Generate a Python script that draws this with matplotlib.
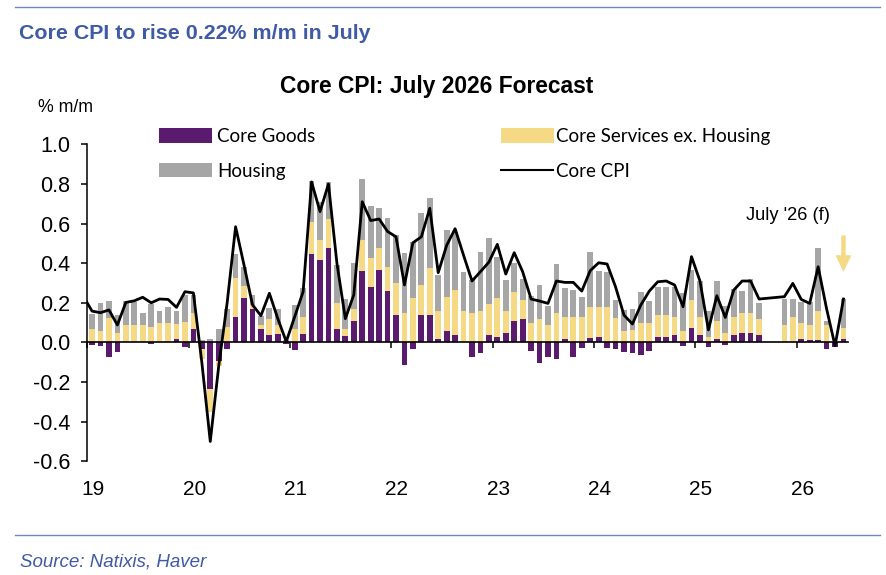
import numpy as np
import matplotlib
matplotlib.use("Agg")
import matplotlib.pyplot as plt
from matplotlib.patches import Rectangle
from matplotlib.lines import Line2D
import matplotlib.transforms as mtransforms

# ---------------- data (monthly, index 0 = first month, mostly hidden at left edge) -------------
month_index = list(range(91))
year_labels = ["19", "20", "21", "22", "23", "24", "25", "26"]
y_tick_values = [1.0, 0.8, 0.6, 0.4, 0.2, 0.0, -0.2, -0.4, -0.6]
y_tick_labels = ["1.0", "0.8", "0.6", "0.4", "0.2", "0.0", "-0.2", "-0.4", "-0.6"]

core_goods = [
    0.0, -0.015, -0.018, -0.075, -0.047, 0.0, 0.0, 0.0, -0.01, 0.0, 0.0, 0.017,
    -0.022, 0.066, -0.035, -0.235, -0.093, -0.035, 0.13, 0.222, 0.167, 0.066, 0.037, 0.045,
    -0.01, -0.037, 0.045, 0.444, 0.416, 0.475, 0.066, 0.034, 0.108, 0.362, 0.281, 0.365,
    0.26, 0.138, -0.114, -0.035, 0.138, 0.138, 0.015, 0.057, 0.037, 0.0, -0.072, -0.055,
    0.037, 0.027, 0.047, 0.108, 0.118, -0.042, -0.103, -0.076, -0.086, 0.017, -0.076, -0.03,
    0.02, 0.029, -0.03, -0.035, -0.047, -0.055, -0.064, -0.042, 0.025, 0.029, 0.037, -0.017,
    0.071, 0.037, -0.022, 0.015, -0.013, 0.037, 0.049, 0.049, 0.037, None, None, 0.0,
    0.0, 0.015, 0.012, 0.012, -0.034, -0.022, 0.015,
]
core_services_ex_housing = [
    0.08, 0.068, 0.059, 0.122, 0.049, 0.088, 0.088, 0.088, 0.079, 0.10, 0.10, 0.074,
    0.105, 0.081, -0.05, -0.117, -0.025, 0.079, 0.193, 0.062, 0.021, 0.022, 0.081, 0.043,
    0.0, 0.066, 0.085, 0.166, 0.101, 0.147, 0.134, 0.032, 0.059, 0.155, 0.143, 0.113,
    0.122, 0.162, 0.146, 0.222, 0.151, 0.236, 0.144, 0.174, 0.227, 0.159, 0.15, 0.159,
    0.155, 0.195, 0.113, 0.148, 0.096, 0.099, 0.118, 0.088, 0.15, 0.113, 0.13, 0.13,
    0.16, 0.151, 0.18, 0.121, 0.059, 0.062, 0.096, 0.096, 0.113, 0.109, 0.093, 0.057,
    0.143, 0.093, 0.029, 0.095, 0.049, 0.089, 0.101, 0.101, 0.081, None, None, 0.088,
    0.13, 0.081, 0.076, 0.148, 0.088, 0.0, 0.056,
]
housing = [
    0.12, 0.074, 0.141, 0.087, 0.089, 0.121, 0.117, 0.062, 0.115, 0.06, 0.077, 0.069,
    0.135, 0.093, 0.01, 0.015, 0.066, 0.088, 0.121, 0.098, 0.051, 0.045, 0.054, 0.079,
    0.01, 0.122, 0.143, 0.205, 0.19, 0.19, 0.19, 0.151, 0.235, 0.306, 0.266, 0.199,
    0.244, 0.242, 0.307, 0.286, 0.362, 0.353, 0.181, 0.337, 0.295, 0.198, 0.165, 0.295,
    0.333, 0.21, 0.153, 0.143, 0.104, 0.135, 0.172, 0.095, 0.244, 0.143, 0.134, 0.10,
    0.274, 0.18, 0.177, 0.093, 0.104, 0.105, 0.156, 0.113, 0.143, 0.143, 0.148, 0.193,
    0.151, 0.18, 0.129, 0.2, 0.134, 0.143, 0.111, 0.17, 0.082, None, None, 0.131,
    0.089, 0.106, 0.117, 0.315, 0.02, 0.0, 0.148,
]
core_cpi = [
    0.23, 0.158, 0.15, 0.164, 0.088, 0.202, 0.21, 0.228, 0.20, 0.219, 0.217, 0.177,
    0.256, 0.25, -0.10, -0.50, -0.12, 0.20, 0.584, 0.39, 0.19, 0.135, 0.248, 0.12,
    0.004, 0.13, 0.256, 0.81, 0.66, 0.80, 0.40, 0.12, 0.24, 0.71, 0.615, 0.623,
    0.56, 0.533, 0.29, 0.503, 0.533, 0.677, 0.352, 0.49, 0.574, 0.44, 0.31, 0.357,
    0.405, 0.495, 0.345, 0.453, 0.357, 0.219, 0.209, 0.197, 0.31, 0.303, 0.303, 0.259,
    0.362, 0.402, 0.396, 0.281, 0.138, 0.093, 0.189, 0.259, 0.306, 0.31, 0.29, 0.18,
    0.433, 0.31, 0.063, 0.236, 0.126, 0.264, 0.31, 0.31, 0.219, None, None, 0.231,
    0.298, 0.217, 0.197, 0.382, 0.17, -0.017, 0.219,
]

# ---------------- styling -------------
PURPLE = "#5A1B6E"
YELLOW = "#F5D985"
GRAY = "#A6A6A6"
BLUE_TXT = "#3F5AA6"
BLUE_RULE = "#6F87C2"
ARIAL = "Liberation Sans"
CALIBRI = "Lato"

W, H = 887, 575
fig = plt.figure(figsize=(W / 100, H / 100), dpi=100)


def fx(px):
    return px / W


def fy(py):
    return 1 - py / H


ax_l, ax_r, ax_t, ax_b = 87, 847.7, 144.3, 461.3
ax = fig.add_axes([fx(ax_l), fy(ax_b), (ax_r - ax_l) / W, (ax_b - ax_t) / H])

x = np.array(month_index, dtype=float)


def arr(v):
    return np.array([np.nan if a is None else a for a in v], dtype=float)


G = arr(core_goods)
S = arr(core_services_ex_housing)
Hs = arr(housing)
C = arr(core_cpi)
valid = ~np.isnan(G)

pos_base = np.zeros_like(x)
neg_base = np.zeros_like(x)
for vals, col in [(G, PURPLE), (S, YELLOW), (Hs, GRAY)]:
    v = np.where(valid, vals, 0.0)
    bottom = np.where(v >= 0, pos_base, neg_base)
    ax.bar(x[valid], v[valid], bottom=bottom[valid], width=0.68, color=col,
           linewidth=0, zorder=1)
    pos_base = pos_base + np.where(v >= 0, v, 0)
    neg_base = neg_base + np.where(v < 0, v, 0)

cv = ~np.isnan(C)
ax.plot(x[cv], C[cv], color="black", lw=2.0, zorder=4, solid_joinstyle="round")

ax.set_xlim(0.4, 90.5)
ax.set_ylim(-0.6, 1.0)
for s in ["top", "right"]:
    ax.spines[s].set_visible(False)
ax.spines["bottom"].set_position(("data", 0))
ax.spines["bottom"].set_linewidth(1.2)
ax.spines["left"].set_linewidth(1.1)
ax.spines["bottom"].set_zorder(3)

ax.set_yticks(y_tick_values)
ax.set_yticklabels(y_tick_labels, fontfamily=ARIAL, fontsize=15.5)
ax.tick_params(axis="y", direction="out", length=5.7 * 0.72, width=1.1, pad=8.0)

xt = [12 * k + 0.45 for k in range(len(year_labels))]
ax.set_xticks(xt)
ax.tick_params(axis="x", direction="out", length=4.0, width=1.1, labelbottom=False)
blend = mtransforms.blended_transform_factory(ax.transData, ax.transAxes)
for k, lab in enumerate(year_labels):
    ax.text(12 * k + 1.1, (ax_b - 495) / (ax_b - ax_t), lab, transform=blend,
            ha="center", va="baseline", fontfamily=ARIAL, fontsize=15)

# forecast annotation
ax.annotate("", xy=(90, 0.356), xytext=(90, 0.54),
            arrowprops=dict(arrowstyle="simple,head_length=1.2,head_width=1.15,tail_width=0.32",
                            color=YELLOW, mutation_scale=10, shrinkA=0, shrinkB=0, lw=0))

fits = []


def ftext(xp, yp, s, target_w=None, **kw):
    t = fig.text(fx(xp), fy(yp), s, **kw)
    if target_w:
        fits.append((t, target_w))
    return t


ftext(746, 219.5, "July '26 (f)", 84, fontfamily=ARIAL, fontsize=12, va="baseline")

# header / footer
fig.add_artist(Line2D([fx(15), fx(880)], [fy(7.3)] * 2, transform=fig.transFigure,
                      color=BLUE_RULE, lw=1.0))
fig.add_artist(Line2D([fx(15), fx(880)], [fy(535)] * 2, transform=fig.transFigure,
                      color=BLUE_RULE, lw=1.0))
ftext(19.3, 39.3, "Core CPI to rise 0.22% m/m in July", 351, fontfamily=ARIAL,
      fontweight="bold", color=BLUE_TXT, fontsize=14, va="baseline")
ftext(20, 566.7, "Source: Natixis, Haver", 187, fontfamily=ARIAL, fontstyle="italic",
      color=BLUE_TXT, fontsize=13, va="baseline")
ftext(280, 93.3, "Core CPI: July 2026 Forecast", 312, fontfamily=ARIAL,
      fontweight="bold", color="black", fontsize=16, va="baseline")
ftext(38.3, 112.3, "% m/m", 55, fontfamily=ARIAL, fontsize=12, va="baseline")

# legend (manual layout)
def patch(xp, yp0, yp1, col):
    fig.add_artist(Rectangle((fx(xp), fy(yp1)), (52.5) / W, (yp1 - yp0) / H,
                             transform=fig.transFigure, color=col, lw=0))


patch(159.3, 128.3, 143.3, PURPLE)
patch(159.3, 163.0, 177.3, GRAY)
patch(501.0, 128.3, 142.7, YELLOW)
fig.add_artist(Line2D([fx(501), fx(553.5)], [fy(170)] * 2, transform=fig.transFigure,
                      color="black", lw=1.5))
leg_serv = ftext(556, 141.7, "Core Services ex. Housing", 214, fontfamily=CALIBRI,
                 fontsize=14, va="baseline")
leg_texts = [
    ftext(217, 141.7, "Core Goods", None, fontfamily=CALIBRI, fontsize=14, va="baseline"),
    ftext(217, 176.7, "Housing", None, fontfamily=CALIBRI, fontsize=14, va="baseline"),
    ftext(556, 176.7, "Core CPI", None, fontfamily=CALIBRI, fontsize=14, va="baseline"),
]

for _ in range(2):
    fig.canvas.draw()
    r = fig.canvas.get_renderer()
    for t, w in fits:
        bb = t.get_window_extent(r)
        t.set_fontsize(t.get_fontsize() * w / bb.width)
for t in leg_texts:
    t.set_fontsize(leg_serv.get_fontsize())

fig.savefig("out.png", dpi=100)
